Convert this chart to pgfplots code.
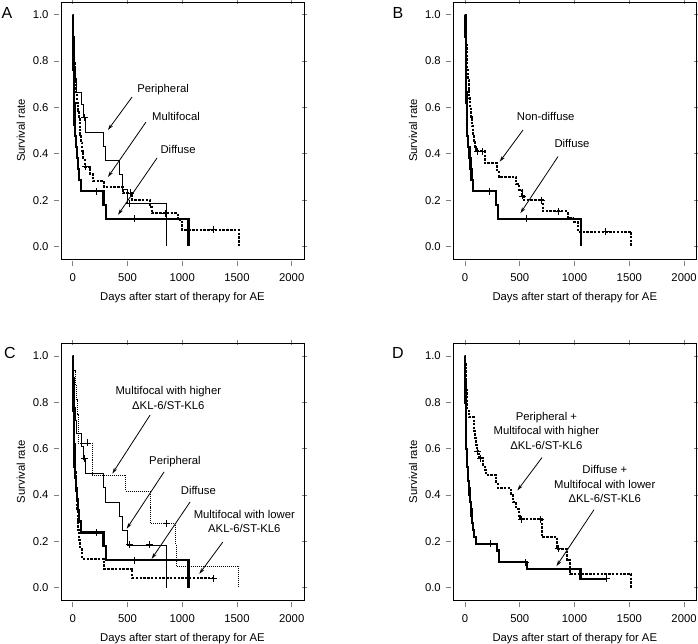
\documentclass[border=0pt]{standalone}
\usepackage{fontspec}
\setmainfont{Liberation Sans}
\usepackage{pgfplots}
\pgfplotsset{compat=1.18}
\usetikzlibrary{arrows.meta}
\newcommand{\cf}{\fontsize{11.3}{14.5}\selectfont}
\tikzset{
  arr/.style={-{Stealth[length=6pt,width=3.5pt]}, line width=0.8pt},
  ann/.style={font=\cf, align=center},
}
\pgfplotsset{
  km/.style={
    scale only axis, width=243pt, height=257pt,
    xmin=-107, xmax=2112, ymin=-0.054, ymax=1.055,
    xtick={0,500,1000,1500,2000}, ytick={0,0.2,0.4,0.6,0.8,1.0},
    /pgf/number format/set thousands separator={},
    yticklabel style={/pgf/number format/fixed,/pgf/number format/fixed zerofill,/pgf/number format/precision=1, xshift=-4pt},
    xticklabel style={yshift=-6pt},
    /pgf/number format/assume math mode=true,
    scaled ticks=false,
    tick align=outside, major tick length=5pt,
    xtick style={gray, line width=0.6pt, yshift=-2pt},
    ytick style={gray, line width=0.6pt, xshift=-2pt},
    axis line style={line width=1pt},
    tick label style={font=\cf},
    label style={font=\cf},
    xlabel={Days after start of therapy for AE},
    ylabel={Survival rate},
    xlabel style={yshift=-4pt},
    ylabel style={yshift=1pt},
    clip=false,
  },
  diff/.style={black, line width=2.3pt, const plot, no marks},
  peri/.style={black, line width=0.8pt, const plot, no marks},
  thdot/.style={black, line width=2pt, dash pattern=on 2.5pt off 1.3pt, const plot, no marks},
  tndot/.style={black, line width=0.7pt, dash pattern=on 1pt off 1pt, const plot, no marks},
  cens/.style={black, only marks, mark=+, mark size=3.5pt, mark options={line width=0.9pt, solid}},
}
\begin{document}
\begin{tikzpicture}
\useasboundingbox (0pt,0pt) rectangle (698pt,-643pt);
\node[font=\fontsize{16}{17}\selectfont] at (7pt,-13pt) {A};
\node[font=\fontsize{16}{17}\selectfont] at (398pt,-13pt) {B};
\node[font=\fontsize{16}{17}\selectfont] at (10pt,-353pt) {C};
\node[font=\fontsize{16}{17}\selectfont] at (398pt,-353pt) {D};

% ---------------- A
\begin{axis}[km, at={(61pt,-2pt)}, anchor=north west]
\addplot[diff] coordinates {(0,1)(3,0.952)(5,0.905)(6,0.857)(7,0.810)(8,0.762)(10,0.714)(12,0.667)(13,0.619)(15,0.571)(17,0.524)(20,0.476)(30,0.429)(42,0.381)(50,0.333)(60,0.286)(73,0.238)(280,0.179)(304,0.119)(1056,0)};
\addplot[cens] coordinates {(219,0.238)(563,0.119)};
\addplot[peri] coordinates {(0,1)(3,0.944)(5,0.889)(8,0.833)(12,0.778)(20,0.722)(35,0.667)(80,0.611)(100,0.556)(115,0.494)(283,0.432)(298,0.370)(426,0.309)(450,0.247)(496,0.185)(855,0)};
\addplot[cens] coordinates {(110,0.556)(515,0.185)};
\addplot[thdot] coordinates {(0,1)(2,0.966)(4,0.931)(6,0.897)(8,0.862)(10,0.828)(13,0.793)(17,0.759)(21,0.724)(27,0.690)(33,0.655)(40,0.621)(47,0.586)(54,0.552)(62,0.517)(70,0.483)(78,0.448)(88,0.414)(98,0.379)(108,0.345)(160,0.314)(185,0.283)(283,0.257)(455,0.231)(545,0.200)(705,0.171)(720,0.143)(960,0.114)(1000,0.072)(1515,0)};
\addplot[cens] coordinates {(120,0.345)(530,0.231)(850,0.143)(1285,0.072)};
\node[ann] at (axis cs:825,0.675) {Peripheral};
\draw[arr] (axis cs:542,0.645) -- (axis cs:322,0.503);
\node[ann] at (axis cs:943,0.559) {Multifocal};
\draw[arr] (axis cs:669,0.537) -- (axis cs:322,0.30);
\node[ann] at (axis cs:962,0.417) {Diffuse};
\draw[arr] (axis cs:770,0.382) -- (axis cs:414,0.137);
\end{axis}

% ---------------- B
\begin{axis}[km, at={(453.3pt,-2pt)}, anchor=north west]
\addplot[diff] coordinates {(0,1)(3,0.952)(5,0.905)(6,0.857)(7,0.810)(8,0.762)(10,0.714)(12,0.667)(13,0.619)(15,0.571)(17,0.524)(20,0.476)(30,0.429)(42,0.381)(50,0.333)(60,0.286)(73,0.238)(280,0.179)(304,0.119)(1056,0)};
\addplot[cens] coordinates {(219,0.238)(563,0.119)};
\addplot[thdot] coordinates {(0,1)(3,0.96)(6,0.92)(10,0.88)(14,0.84)(18,0.80)(22,0.76)(27,0.72)(33,0.68)(40,0.64)(47,0.60)(55,0.56)(62,0.52)(70,0.48)(78,0.45)(90,0.43)(100,0.41)(180,0.359)(290,0.33)(310,0.30)(470,0.27)(495,0.245)(520,0.218)(540,0.200)(712,0.151)(940,0.122)(990,0.107)(1030,0.064)(1520,0)};
\addplot[cens] coordinates {(115,0.41)(160,0.41)(527,0.218)(700,0.2)(855,0.151)(1282,0.064)};
\node[ann] at (axis cs:737,0.56) {Non-diffuse};
\draw[arr] (axis cs:530,0.503) -- (axis cs:317,0.366);
\node[ann] at (axis cs:977,0.443) {Diffuse};
\draw[arr] (axis cs:849,0.388) -- (axis cs:506,0.144);
\end{axis}

% ---------------- C
\begin{axis}[km, at={(61pt,-343.3pt)}, anchor=north west]
\addplot[diff] coordinates {(0,1)(3,0.952)(5,0.905)(6,0.857)(7,0.810)(8,0.762)(10,0.714)(12,0.667)(13,0.619)(15,0.571)(17,0.524)(20,0.476)(30,0.429)(42,0.381)(50,0.333)(60,0.286)(73,0.238)(280,0.179)(304,0.119)(1056,0)};
\addplot[cens] coordinates {(219,0.238)(563,0.119)};
\addplot[peri] coordinates {(0,1)(3,0.944)(5,0.889)(8,0.833)(12,0.778)(20,0.722)(35,0.667)(80,0.611)(100,0.556)(115,0.494)(283,0.432)(298,0.370)(426,0.309)(450,0.247)(496,0.185)(855,0)};
\addplot[cens] coordinates {(110,0.556)(515,0.185)(700,0.185)};
\addplot[tndot] coordinates {(0,1)(10,0.9375)(20,0.875)(30,0.8125)(45,0.75)(47,0.6875)(50,0.625)(176,0.556)(180,0.486)(481,0.417)(709,0.347)(712,0.278)(937,0.185)(945,0.093)(1516,0)};
\addplot[cens] coordinates {(130,0.625)(852,0.278)};
\addplot[thdot] coordinates {(0,1)(2,0.958)(3,0.917)(4,0.875)(5,0.833)(6,0.792)(8,0.750)(10,0.708)(12,0.667)(14,0.625)(16,0.583)(19,0.542)(22,0.500)(26,0.458)(30,0.417)(35,0.375)(40,0.333)(45,0.292)(52,0.250)(60,0.208)(70,0.167)(85,0.125)(283,0.083)(545,0.042)(1287,0.042)};
\addplot[cens] coordinates {(1287,0.042)};
\node[ann] at (axis cs:873,0.819) {Multifocal with higher\\ΔKL-6/ST-KL6};
\draw[arr] (axis cs:706,0.745) -- (axis cs:362,0.493);
\node[ann] at (axis cs:934,0.546) {Peripheral};
\draw[arr] (axis cs:834,0.5) -- (axis cs:493,0.255);
\node[ann] at (axis cs:1147,0.42) {Diffuse};
\draw[arr] (axis cs:1071,0.37) -- (axis cs:721,0.125);
\node[ann] at (axis cs:1567,0.286) {Multifocal with lower\\AKL-6/ST-KL6};
\draw[arr] (axis cs:1370,0.197) -- (axis cs:1156,0.06);
\end{axis}

% ---------------- D
\begin{axis}[km, at={(453.3pt,-343.3pt)}, anchor=north west]
\addplot[diff] coordinates {(0,1)(1,0.95)(2,0.90)(3,0.85)(4,0.80)(6,0.75)(8,0.70)(10,0.65)(12,0.60)(15,0.56)(19,0.52)(24,0.49)(29,0.46)(34,0.43)(40,0.40)(46,0.37)(52,0.34)(58,0.31)(66,0.28)(75,0.25)(85,0.22)(100,0.19)(290,0.161)(308,0.11)(566,0.082)(1054,0.039)(1290,0.039)};
\addplot[cens] coordinates {(233,0.19)(552,0.11)(1290,0.039)};
\addplot[thdot] coordinates {(0,1)(3,0.971)(5,0.941)(7,0.912)(9,0.882)(12,0.853)(15,0.824)(18,0.794)(22,0.765)(37,0.735)(79,0.706)(85,0.676)(92,0.647)(100,0.618)(108,0.589)(125,0.560)(165,0.530)(180,0.51)(195,0.486)(287,0.457)(300,0.43)(420,0.40)(440,0.37)(470,0.34)(495,0.31)(505,0.295)(700,0.219)(840,0.168)(931,0.118)(961,0.06)(1516,0)};
\addplot[cens] coordinates {(113,0.589)(143,0.56)(515,0.295)(690,0.295)(852,0.168)};
\node[ann] at (axis cs:743,0.677) {Peripheral +\\Multifocal with higher\\ΔKL-6/ST-KL6};
\draw[arr] (axis cs:703,0.562) -- (axis cs:478,0.42);
\node[ann] at (axis cs:1276,0.446) {Diffuse +\\Multifocal with lower\\ΔKL-6/ST-KL6};
\draw[arr] (axis cs:1178,0.337) -- (axis cs:835,0.0935);
\end{axis}
\end{tikzpicture}
\end{document}
